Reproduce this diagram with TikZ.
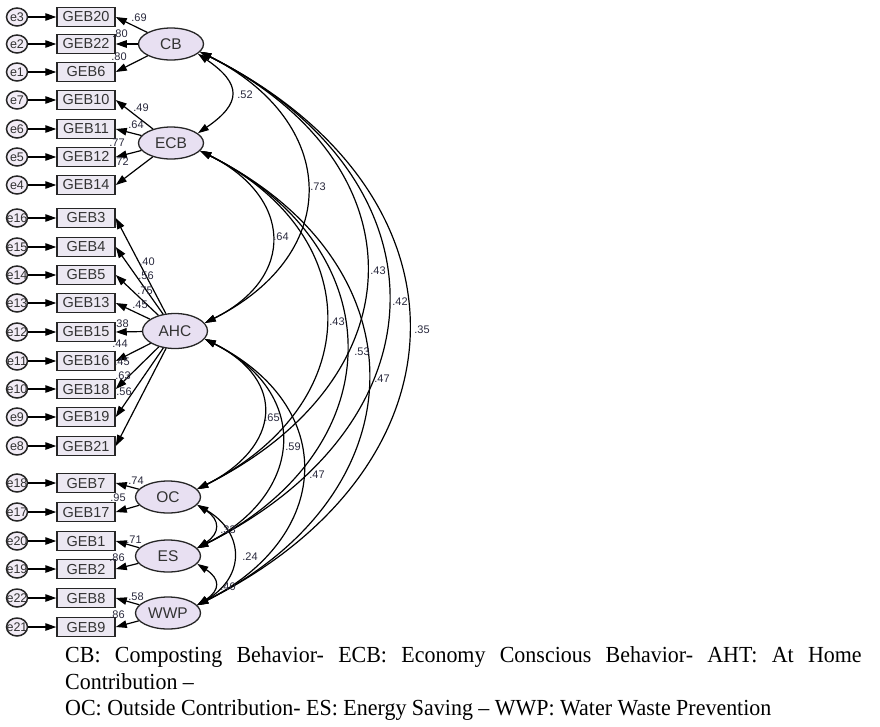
\documentclass[tikz,border=0pt]{standalone}
\usepackage{fontspec}
\setmainfont{Liberation Sans}
\newfontfamily\capfont{Liberation Serif}
\usetikzlibrary{arrows.meta,shapes.geometric}
\definecolor{latfill}{RGB}{232,224,242}
\definecolor{boxfill}{RGB}{236,232,242}
\definecolor{errfill}{RGB}{242,236,246}
\definecolor{lblcol}{RGB}{40,40,60}
\begin{document}
\begin{tikzpicture}[x=1pt,y=1pt,
  obs/.style={draw=black!85, line width=1.5pt, fill=boxfill, minimum width=58pt, minimum height=19pt, inner sep=0pt, font=\fontsize{14.5}{14.5}\selectfont, text=black!80},
  lat/.style={ellipse, draw=black!85, line width=1.3pt, fill=latfill, minimum width=65pt, minimum height=32pt, inner sep=0pt, font=\fontsize{15.5}{15.5}\selectfont, text=black!80},
  err/.style={ellipse, draw=black!85, line width=1.5pt, fill=errfill, minimum width=21pt, minimum height=18pt, inner sep=0pt, font=\fontsize{12.5}{12.5}\selectfont, text=black!80},
  arr/.style={-{Triangle[length=11pt,width=7.5pt]}, line width=1.2pt},
  cov/.style={{Triangle[length=11pt,width=7pt]}-{Triangle[length=11pt,width=7pt]}, line width=1.2pt},
  lbl/.style={font=\fontsize{11}{11}\selectfont, text=lblcol, inner sep=0pt},
  capt/.style={anchor=base west, inner sep=0pt, font=\capfont\fontsize{23}{23}\selectfont}]
\useasboundingbox (0,0) rectangle (880,-726);

% latent variables
\node[lat] (CB)  at (171,-44)  {CB};
\node[lat] (ECB) at (171,-143) {ECB};
\node[lat, minimum height=35pt] (AHC) at (175,-331) {AHC};
\node[lat] (OC)  at (168,-497) {OC};
\node[lat] (ES)  at (168,-556) {ES};
\node[lat] (WWP) at (168,-613) {WWP};

% observed variables and errors
\foreach \n/\t/\e/\y in {b20/GEB20/e3/17, b22/GEB22/e2/44, b6/GEB6/e1/72,
  b10/GEB10/e7/100, b11/GEB11/e6/129, b12/GEB12/e5/157, b14/GEB14/e4/185,
  b3/GEB3/e16/218, b4/GEB4/e15/247, b5/GEB5/e14/275, b13/GEB13/e13/303,
  b15/GEB15/e12/332, b16/GEB16/e11/361, b18/GEB18/e10/389, b19/GEB19/e9/417,
  b21/GEB21/e8/446, b7/GEB7/e18/483, b17/GEB17/e17/512, b1/GEB1/e20/541,
  b2/GEB2/e19/569, b8/GEB8/e22/598, b9/GEB9/e21/627}{
  \node[obs] (\n) at (86,-\y) {\t};
  \node[err] (\e) at (17,-\y) {\makebox[0pt]{\e}};
  \draw[arr] (\e) -- (\n);
}

% loadings
\foreach \l/\b in {CB/b20, CB/b22, CB/b6, ECB/b10, ECB/b11, ECB/b12, ECB/b14,
  AHC/b3, AHC/b4, AHC/b5, AHC/b13, AHC/b15, AHC/b16, AHC/b18, AHC/b19, AHC/b21,
  OC/b7, OC/b17, ES/b1, ES/b2, WWP/b8, WWP/b9}{
  \draw[arr] (\l) -- (\b.east);
}

% loading labels
\node[lbl] (l1) at (139,-18) {.69};
\node[lbl] (l2) at (120,-34) {.80};
\node[lbl] (l3) at (119,-57) {.80};
\node[lbl] (l4) at (141,-108) {.49};
\node[lbl] (l5) at (136,-125) {.64};
\node[lbl] (l6) at (117,-143) {.77};
\node[lbl] (l7) at (121,-162) {.72};
\node[lbl] (l8) at (147,-262) {.40};
\node[lbl] (l9) at (146,-276) {.56};
\node[lbl] (l10) at (145,-291) {.75};
\node[lbl] (l11) at (140,-305) {.45};
\node[lbl] (l12) at (121,-324) {.38};
\node[lbl] (l13) at (120,-344) {.44};
\node[lbl] (l14) at (122,-362) {.45};
\node[lbl] (l15) at (123,-376) {.63};
\node[lbl] (l16) at (124,-392) {.56};
\node[lbl] (l17) at (136,-481) {.74};
\node[lbl] (l18) at (118,-498) {.95};
\node[lbl] (l19) at (134,-540) {.71};
\node[lbl] (l20) at (117,-558) {.86};
\node[lbl] (l21) at (136,-597) {.58};
\node[lbl] (l22) at (117,-615) {.86};

% covariances
\draw[cov] (CB.-20) .. controls +(44,-30) and +(44,30) .. (ECB.20);
\draw[cov] (CB.-15) .. controls +(139,-70) and +(139,70) .. (AHC.15);
\draw[cov] (ECB.-15) .. controls +(92,-46) and +(92,46) .. (AHC.15);
\draw[cov] (CB.-15) .. controls +(223,-112) and +(223,112) .. (OC.15);
\draw[cov] (CB.-15) .. controls +(252,-126) and +(252,126) .. (ES.15);
\draw[cov] (CB.-15) .. controls +(279,-140) and +(279,140) .. (WWP.15);
\draw[cov] (ECB.-15) .. controls +(169,-85) and +(169,85) .. (OC.15);
\draw[cov] (ECB.-15) .. controls +(196,-98) and +(196,98) .. (ES.15);
\draw[cov] (ECB.-15) .. controls +(225,-113) and +(225,113) .. (WWP.15);
\draw[cov] (AHC.-15) .. controls +(83,-42) and +(83,42) .. (OC.15);
\draw[cov] (AHC.-15) .. controls +(107,-54) and +(107,54) .. (ES.15);
\draw[cov] (AHC.-15) .. controls +(135,-68) and +(135,68) .. (WWP.15);
\draw[cov] (OC.-15) .. controls +(23,-15) and +(23,15) .. (ES.15);
\draw[cov] (OC.-15) .. controls +(48,-28) and +(48,28) .. (WWP.15);
\draw[cov] (ES.-15) .. controls +(23,-15) and +(23,15) .. (WWP.15);

% covariance labels
\node[lbl] (c1) at (245,-95) {.52};
\node[lbl] (c2) at (318,-187) {.73};
\node[lbl] (c3) at (281,-237) {.64};
\node[lbl] (c4) at (378,-271) {.43};
\node[lbl] (c5) at (400,-302) {.42};
\node[lbl] (c6) at (422,-330) {.35};
\node[lbl] (c7) at (337,-322) {.43};
\node[lbl] (c8) at (362,-352) {.53};
\node[lbl] (c9) at (382,-379) {.47};
\node[lbl] (c10) at (272,-418) {.65};
\node[lbl] (c11) at (293,-447) {.59};
\node[lbl] (c12) at (317,-475) {.47};
\node[lbl] (c13) at (228,-530) {.33};
\node[lbl] (c14) at (250,-557) {.24};
\node[lbl] (c15) at (228,-587) {.40};

% caption
\node[capt] (cap1) at (65,-662) {\scalebox{0.955}[1]{\makebox[834pt][s]{CB: Composting Behavior- ECB: Economy Conscious Behavior- AHT: At Home}}};
\node[capt] (cap2) at (65,-689) {\scalebox{0.955}[1]{Contribution –}};
\node[capt] (cap3) at (65,-715) {\scalebox{0.955}[1]{OC: Outside Contribution- ES: Energy Saving – WWP: Water Waste Prevention}};
\end{tikzpicture}
\end{document}
